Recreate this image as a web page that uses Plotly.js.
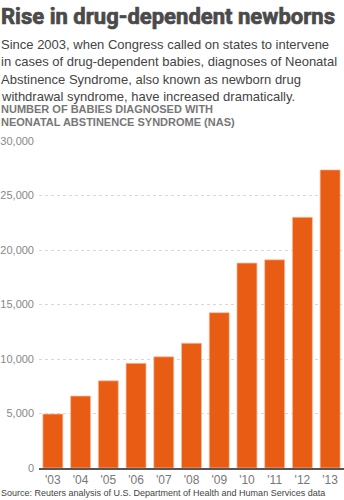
<!DOCTYPE html>
<html>
<head>
<meta charset="utf-8">
<script src="https://cdn.plot.ly/plotly-3.0.1.min.js"></script>
<style>
html,body{margin:0;padding:0;background:#fff;}
#chart{width:344px;height:500px;}
</style>
</head>
<body>
<div id="chart"></div>
<script>
const years = ["'03","'04","'05","'06","'07","'08","'09","'10","'11","'12","'13"];
const nasCases = [4950, 6600, 8000, 9600, 10200, 11450, 14250, 18800, 19100, 23000, 27350];
const yTickValues = [0, 5000, 10000, 15000, 20000, 25000, 30000];
const yTickLabels = ["0", "5,000", "10,000", "15,000", "20,000", "25,000", "30,000"];

const titleText = "Rise in drug-dependent newborns";
const subtitleLines = [
  "Since 2003, when Congress called on states to intervene",
  "in cases of drug-dependent babies, diagnoses of Neonatal",
  "Abstinence Syndrome, also known as newborn drug",
  "withdrawal syndrome, have increased dramatically."
];
const headerLines = ["NUMBER OF BABIES DIAGNOSED WITH", "NEONATAL ABSTINENCE SYNDROME (NAS)"];
const sourceText = "Source: Reuters analysis of U.S. Department of Health and Human Services data";

const W = 344, H = 500, L = 39, R = 0, T = 141, B = 32;
const pw = W - L - R, ph = H - T - B;
const px = x => (x - L) / pw;
const py = y => (H - B - y) / ph;

const trace = {
  type: 'bar',
  x: years,
  y: nasCases,
  marker: {color: '#e85c14', line: {color: 'rgba(255,190,160,0.7)', width: 1}},
  width: 0.72,
  hoverinfo: 'x+y'
};

function textAnn(text, yCenter, size, color, family, bold) {
  return {
    text: bold ? '<b>' + text + '</b>' : text,
    xref: 'paper', yref: 'paper', x: px(-1), y: py(yCenter),
    xanchor: 'left', yanchor: 'middle', align: 'left', showarrow: false,
    font: {family: family, size: size, color: color}
  };
}

const sans = 'Liberation Sans, Arial, sans-serif';
const annotations = [];
annotations.push(textAnn(titleText, 16, 22.5, '#4a4a4a', 'Roboto, Liberation Sans, sans-serif', true));
subtitleLines.forEach((t, i) => annotations.push(textAnn(t, 44 + i * 17.6, 13, '#444', sans, false)));
headerLines.forEach((t, i) => annotations.push(textAnn(t, 109 + i * 13.5, 11, '#777', sans, true)));
annotations.push(textAnn(sourceText, 493, 9, '#444', sans, false));

const layout = {
  width: W, height: H,
  margin: {l: L, r: R, t: T, b: B, pad: 0},
  paper_bgcolor: '#fff', plot_bgcolor: '#fff',
  showlegend: false,
  font: {family: sans, color: '#777'},
  xaxis: {
    type: 'category',
    showgrid: false,
    showline: true, linecolor: '#555', linewidth: 1.5,
    ticks: '', tickfont: {size: 12, color: '#777'},
    fixedrange: true
  },
  yaxis: {
    range: [0, 30000],
    tickvals: yTickValues, ticktext: yTickLabels,
    showgrid: true, gridcolor: '#d8d8d8', griddash: 'dot', gridwidth: 1,
    zeroline: false, showline: false,
    ticks: '', ticklabelstandoff: 4,
    tickfont: {size: 11, color: '#888'},
    fixedrange: true
  },
  annotations: annotations
};

Plotly.newPlot('chart', [trace], layout, {displayModeBar: false, staticPlot: true}).then(gd => {
  // embolden the headline to match the reference's heavy face
  const t = gd.querySelector('.annotation[data-index="0"] text');
  if (t) {
    t.setAttribute('textLength', '334');
    t.setAttribute('lengthAdjust', 'spacingAndGlyphs');
    t.style.stroke = '#4a4a4a';
    t.style.strokeWidth = '0.7px';
  }
});
</script>
</body>
</html>
